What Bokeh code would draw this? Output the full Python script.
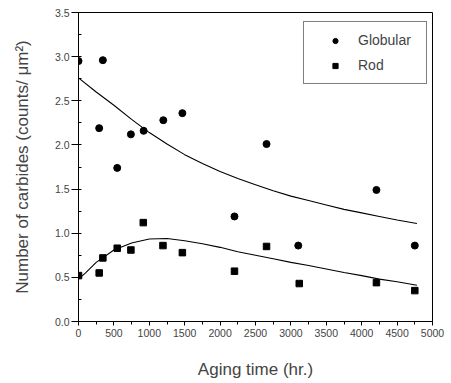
from bokeh.plotting import figure
from bokeh.models import FixedTicker, Legend, LegendItem, NumeralTickFormatter
from bokeh.embed import file_html
from bokeh.resources import INLINE

# Measured data points
glob_x = [0, 344, 292, 547, 740, 920, 1198, 1467, 2203, 2656, 3104, 4208, 4750]
glob_y = [2.95, 2.96, 2.19, 1.74, 2.12, 2.16, 2.28, 2.36, 1.19, 2.01, 0.86, 1.49, 0.86]

rod_x = [0, 292, 344, 547, 740, 915, 1193, 1467, 2203, 2656, 3118, 4208, 4750]
rod_y = [0.52, 0.55, 0.72, 0.83, 0.81, 1.12, 0.86, 0.78, 0.57, 0.85, 0.43, 0.44, 0.35]

# Fitted curves
glob_fit_x = [0, 250, 500, 750, 1000, 1250, 1500, 1750, 2000, 2250, 2500, 2750,
              3000, 3250, 3500, 3750, 4000, 4250, 4500, 4780]
glob_fit_y = [2.76, 2.60, 2.45, 2.29, 2.14, 2.01, 1.89, 1.79, 1.70, 1.62, 1.55, 1.48,
              1.42, 1.37, 1.32, 1.27, 1.23, 1.19, 1.15, 1.11]

rod_fit_x = [0, 100, 250, 500, 750, 1000, 1250, 1500, 1750, 2000, 2250, 2500, 2750,
             3000, 3250, 3500, 3750, 4000, 4250, 4500, 4780]
rod_fit_y = [0.48, 0.55, 0.67, 0.81, 0.89, 0.935, 0.94, 0.915, 0.88, 0.84, 0.79, 0.75, 0.71,
             0.67, 0.635, 0.595, 0.555, 0.52, 0.48, 0.45, 0.41]

x_ticks = [0, 500, 1000, 1500, 2000, 2500, 3000, 3500, 4000, 4500, 5000]
x_minor = [250 + 500 * i for i in range(10)]
y_ticks = [0.0, 0.5, 1.0, 1.5, 2.0, 2.5, 3.0, 3.5]
y_minor = [0.25, 0.75, 1.25, 1.75, 2.25, 2.75, 3.25]

FONT = "Liberation Sans"

p = figure(width=451, height=383, x_range=(0, 5000), y_range=(0, 3.5),
           output_backend="svg", toolbar_location=None,
           min_border_left=78, min_border_right=19, min_border_top=12, min_border_bottom=62)

p.xgrid.visible = False
p.ygrid.visible = False
p.outline_line_color = "black"
p.outline_line_width = 1
p.background_fill_color = "white"
p.border_fill_color = "white"

# x axis
xa = p.xaxis[0]
xa.ticker = FixedTicker(ticks=x_ticks, minor_ticks=x_minor)
xa.axis_label = "Aging time (hr.)"
xa.axis_label_text_font = FONT
xa.axis_label_text_font_size = "17px"
xa.axis_label_text_font_style = "normal"
xa.axis_label_standoff = 20
xa.major_label_text_font = FONT
xa.major_label_text_font_size = "10.5px"
xa.major_label_standoff = 3
xa.major_tick_out = 4
xa.major_tick_in = 0
xa.minor_tick_out = 3
xa.minor_tick_in = 0
xa.axis_line_color = "black"
xa.major_tick_line_color = "black"
xa.minor_tick_line_color = "black"

# y axis
ya = p.yaxis[0]
ya.ticker = FixedTicker(ticks=y_ticks, minor_ticks=y_minor)
ya.formatter = NumeralTickFormatter(format="0.0")
ya.axis_label = "Number of carbides (counts/ \u03bcm\u00b2)"
ya.axis_label_text_font = FONT
ya.axis_label_text_font_size = "17px"
ya.axis_label_text_font_style = "normal"
ya.axis_label_standoff = 20
ya.major_label_text_font = FONT
ya.major_label_text_font_size = "10.5px"
ya.major_label_standoff = 2
ya.major_tick_out = 7
ya.major_tick_in = 3
ya.minor_tick_out = 0
ya.minor_tick_in = 3
ya.axis_line_color = "black"
ya.major_tick_line_color = "black"
ya.minor_tick_line_color = "black"

# fitted curves
p.line(glob_fit_x, glob_fit_y, line_color="black", line_width=1.1)
p.line(rod_fit_x, rod_fit_y, line_color="black", line_width=1.1)

# data points
g = p.scatter(glob_x, glob_y, marker="circle", size=7, fill_color="black", line_color="black")
r = p.scatter(rod_x, rod_y, marker="square", size=6.5, fill_color="black", line_color="black")

legend = Legend(items=[LegendItem(label="Globular", renderers=[g]),
                       LegendItem(label="Rod", renderers=[r])],
                location=(225, 237))
legend.label_text_font = FONT
legend.label_text_font_size = "14px"
legend.border_line_color = "black"
legend.border_line_width = 1
legend.background_fill_alpha = 1
legend.padding = 8
legend.spacing = 5
legend.glyph_width = 46
legend.glyph_height = 13
legend.label_standoff = 0
legend.label_width = 60
legend.label_height = 20
legend.margin = 0
p.add_layout(legend, "center")

open("out.html", "w").write(file_html(p, INLINE))
